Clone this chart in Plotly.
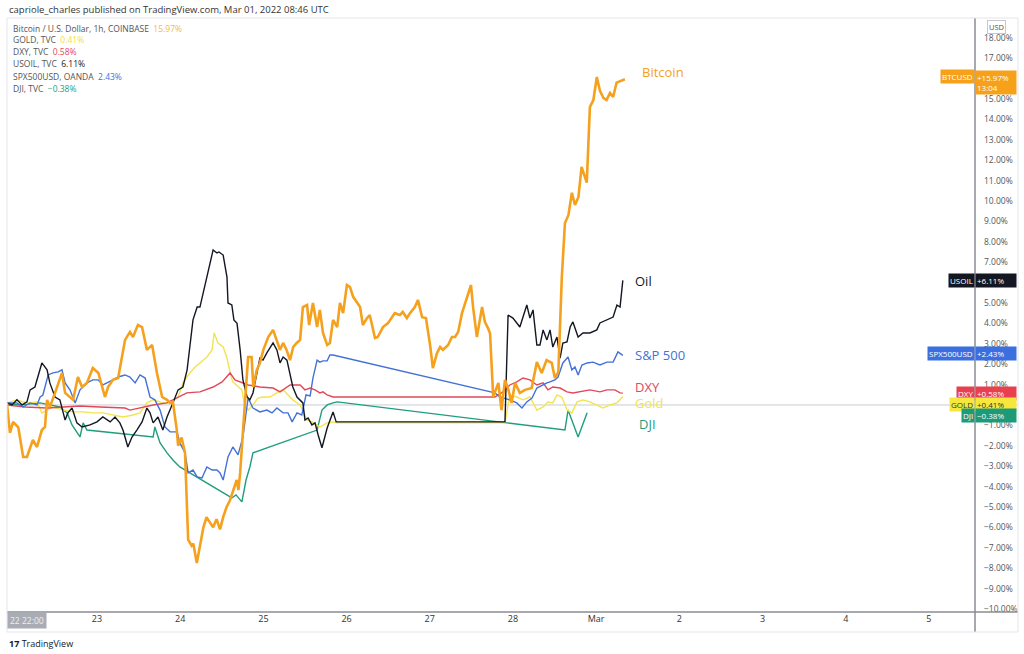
import pandas as pd
import plotly.graph_objects as go

# hours after 2022-02-22 00:00, percent change
btc = [(-2, 0.1), (-1.1, -1.37), (-0.2, -0.83), (1.3, -1.1), (2.7, -2.55), (3.8, -2.55), (5.5, -1.72),
       (6.7, -2.06), (8.1, -1.23), (9.0, -1.08), (9.6, 0.25), (10.4, -0.1), (11.9, 0.59), (13.9, 1.57),
       (14.8, 0.59), (17.1, 0.25), (18.5, 1.37), (19.7, 0.88), (21.1, 1.08), (22.8, 1.81), (24.4, 1.57),
       (24.9, 1.23), (26.3, 0.39), (27.2, 0.88), (28.6, 1.23), (30.1, 1.32), (32.1, 3.19), (33.5, 3.58),
       (34.4, 3.33), (35.8, 3.92), (37.0, 3.82), (38.4, 2.7), (39.9, 2.94), (41.3, 1.57), (42.8, 0.39),
       (44.2, 0.25), (45.1, 0.1), (45.9, 0.15), (47.0, -1.2), (47.4, -2.0), (48.4, -1.6), (49.4, -2.35),
       (50.3, -6.6), (51.3, -6.9), (51.8, -6.8), (52.8, -7.75), (53.7, -6.9), (54.7, -6.0), (55.6, -5.5),
       (56.6, -5.8), (57.5, -6.0), (58.5, -5.6), (59.5, -6.1), (60.4, -5.5), (61.4, -5.0), (62.4, -4.66),
       (63.3, -4.17), (64.3, -3.68), (64.8, -4.17), (65.3, -3.33), (66.2, -1.08), (67.6, 2.35), (68.6, 2.35),
       (69.1, 0.88), (70.1, 1.72), (71.0, 2.06), (72.0, 2.7), (73.4, 3.33), (74.8, 3.68), (75.8, 3.19),
       (76.8, 2.7), (77.7, 3.04), (78.7, 2.7), (79.7, 2.2), (80.6, 2.84), (81.6, 3.04), (82.6, 3.19),
       (83.4, 4.8), (84.6, 4.9), (85.2, 3.92), (86.3, 5.0), (87.5, 3.82), (88.3, 4.66), (89.2, 3.53),
       (90.4, 2.94), (91.2, 3.04), (92.1, 4.17), (93.3, 3.82), (94.1, 5.0), (95.0, 4.5), (96.1, 5.88),
       (97.0, 5.78), (97.9, 5.3), (99.9, 4.8), (100.7, 3.92), (101.9, 4.26), (102.7, 4.41), (104.2, 3.28),
       (105.0, 3.33), (106.5, 3.82), (107.9, 4.0), (109.9, 4.5), (111.4, 4.41), (112.2, 4.56), (113.4, 4.26),
       (114.3, 4.5), (115.7, 4.8), (116.6, 5.15), (117.8, 4.3), (118.9, 4.26), (120.1, 2.94), (120.9, 1.81),
       (122.1, 2.55), (123.0, 2.84), (123.8, 2.7), (125.3, 2.94), (126.4, 3.33), (127.3, 3.33), (128.2, 3.58),
       (129.3, 4.5), (130.7, 5.3), (131.9, 5.88), (132.5, 4.8), (133.6, 3.33), (135.1, 4.8), (135.9, 4.07),
       (136.8, 3.77), (137.4, 3.5), (138.3, 0.4), (139.8, 1.08), (140.7, -0.25), (141.7, 1.23), (142.7, 0.74),
       (143.6, 0.1), (144.6, 1.08), (146.0, 0.59), (147.5, 0.74), (149.4, 0.83), (150.9, 2.1), (152.3, 1.57),
       (153.7, 2.2), (155.2, 2.06), (156.1, 1.32), (157.1, 1.62), (158.1, 6.27), (159.0, 8.92), (160.0, 9.3),
       (161.0, 10.4), (161.9, 9.8), (162.9, 10.2), (163.8, 11.67), (165.3, 10.9), (166.2, 14.6), (167.2, 14.95),
       (168.2, 16.08), (169.1, 15.4), (170.1, 15.05), (171.0, 14.95), (172.0, 15.3), (172.9, 15.1),
       (173.9, 15.8), (175.4, 15.9), (176.3, 15.97)]

oil = [(-2.0, 0.1), (-0.5, 0.0), (0.9, 0.25), (2.4, 0.0), (3.8, 0.15), (4.7, 0.74), (6.1, 0.88), (7.0, 1.37),
       (8.1, 2.06), (9.6, 1.72), (10.4, 1.08), (11.9, 0.39), (13.3, 0.25), (14.8, -0.74), (15.6, -0.39),
       (16.8, -0.15), (18.2, -0.88), (19.7, -1.08), (22.0, -0.98), (24.0, -0.83), (25.7, -0.59), (27.8, -0.83),
       (29.2, -0.59), (30.6, -0.88), (31.5, -1.23), (32.9, -2.06), (34.1, -1.57), (35.5, -1.23), (37.0, -0.83),
       (38.4, -0.15), (39.3, -0.39), (40.2, -0.88), (41.6, -0.59), (43.0, -1.23), (44.2, -0.59), (45.9, 0.1),
       (47.4, 0.74), (48.8, 0.88), (50.0, 1.72), (51.7, 4.17), (52.9, 4.8), (53.7, 4.8), (54.6, 5.49),
       (55.7, 6.27), (56.6, 6.96), (57.5, 7.6), (58.6, 7.45), (59.2, 7.5), (60.4, 7.35), (61.5, 6.27),
       (61.8, 5.0), (62.9, 4.9), (63.5, 4.17), (64.4, 4.0), (65.3, 2.7), (66.1, 1.23), (67.3, 0.39),
       (68.1, 0.25), (69.0, 0.59), (70.2, 1.72), (71.0, 2.3), (71.9, 2.2), (73.0, 2.55), (74.8, 3.04),
       (75.9, 2.7), (76.8, 2.06), (77.7, 2.35), (78.8, 2.2), (79.7, 1.57), (80.5, 0.88), (81.7, 0.39),
       (82.6, 0.25), (83.4, 0.1), (84.0, -0.74), (84.9, -0.64), (86.0, -0.98), (86.9, -0.88), (87.8, -1.47),
       (88.9, -2.1), (90.4, -1.13), (91.2, -0.74), (92.1, -0.34), (93.0, -0.83), (141.7, -0.83), (142.6, 4.41),
       (144.0, 4.26), (146.0, 3.82), (148.0, 4.9), (148.9, 4.26), (149.8, 4.66), (150.9, 2.94), (151.8, 2.94),
       (152.7, 3.68), (153.8, 3.19), (154.7, 3.68), (155.5, 2.84), (156.7, 3.33), (157.6, 2.3), (158.4, 3.04),
       (159.6, 3.09), (160.5, 3.82), (161.3, 4.07), (162.8, 3.33), (164.2, 3.53), (166.2, 3.53), (168.2, 3.68),
       (169.1, 4.02), (171.1, 4.17), (172.9, 4.31), (174.0, 4.9), (174.9, 4.8), (175.7, 6.11)]

spx = [(-2.0, 0.1), (0.9, 0.1), (2.7, -0.1), (4.7, 0.1), (6.7, 0.0), (7.6, 0.39), (8.4, 0.49), (9.9, 1.47),
       (11.3, 1.57), (12.8, 1.62), (13.9, 1.72), (14.8, 1.08), (16.2, 0.74), (17.7, 0.1), (19.1, 0.74),
       (21.1, 1.08), (22.8, 1.23), (24.3, 1.23), (25.7, 0.98), (27.2, 1.13), (28.6, 1.23), (30.1, 1.37),
       (32.1, 1.47), (33.5, 1.37), (35.0, 1.08), (36.4, 1.47), (37.9, 1.32), (39.3, 0.39), (40.7, 0.25),
       (42.2, -0.25), (43.6, -1.08), (45.1, -1.32), (47.1, -1.32), (47.9, -1.86), (49.4, -2.35), (50.3, -3.33),
       (51.7, -3.19), (52.9, -3.53), (54.3, -3.58), (55.7, -3.04), (57.2, -3.19), (58.6, -3.19), (59.5, -3.33),
       (60.4, -3.68), (61.8, -2.55), (63.2, -2.06), (64.7, -2.45), (66.1, -1.57), (67.0, -0.25), (67.6, 0.34),
       (69.0, -0.15), (71.0, -0.34), (73.0, -0.25), (74.5, -0.39), (75.9, -0.15), (77.7, -0.39), (79.1, -0.39),
       (80.3, -0.83), (81.7, -0.39), (83.1, -0.49), (84.3, 0.49), (85.5, 0.44), (86.3, 1.32), (87.5, 2.2),
       (88.3, 2.1), (89.2, 2.16), (90.4, 2.16), (91.2, 2.45), (92.1, 2.45), (138.8, 0.59), (140.3, 0.39),
       (143.1, 0.25), (145.1, 0.1), (146.6, -0.15), (148.0, 0.15), (149.5, 0.34), (150.9, 0.83), (152.4, 0.98),
       (153.8, 1.08), (154.7, 1.13), (156.1, 1.23), (157.0, 1.37), (158.4, 2.06), (159.9, 2.35), (161.0, 1.72),
       (161.9, 1.86), (162.8, 1.47), (163.9, 1.96), (165.4, 2.06), (167.1, 2.1), (169.1, 1.96), (171.1, 2.1),
       (172.9, 2.1), (174.3, 2.6), (175.7, 2.43)]

dxy = [(-2.0, 0.0), (3.3, -0.1), (9.6, -0.15), (13.3, -0.1), (15.4, -0.1), (19.1, -0.05), (24.9, -0.1),
       (29.2, -0.15), (32.1, -0.15), (33.5, -0.25), (36.4, -0.15), (40.2, 0.0), (44.2, 0.1), (45.9, 0.25),
       (49.9, 0.59), (53.7, 0.64), (57.5, 0.88), (60.1, 1.13), (62.4, 1.57), (63.8, 1.23), (65.8, 1.08),
       (67.6, 0.98), (71.0, 0.88), (74.8, 0.83), (76.8, 0.64), (79.7, 0.98), (82.6, 0.98), (84.0, 0.74),
       (85.5, 0.83), (86.9, 0.74), (88.3, 0.59), (89.2, 0.64), (90.4, 0.49), (92.1, 0.39), (138.8, 0.39),
       (141.1, 0.64), (143.1, 0.98), (145.1, 1.13), (146.9, 1.32), (148.9, 1.23), (150.9, 0.98), (152.7, 1.08),
       (154.1, 0.74), (155.5, 0.88), (157.6, 0.83), (159.6, 0.64), (161.3, 0.59), (163.4, 0.64), (166.2, 0.74),
       (169.1, 0.64), (171.1, 0.74), (173.4, 0.74), (174.9, 0.59), (175.7, 0.58)]

gold = [(-2.0, 0.1), (0.9, 0.25), (3.8, 0.1), (6.7, 0.15), (8.1, -0.39), (9.6, -0.25), (11.3, -0.1),
        (14.2, -0.25), (17.1, -0.34), (20.0, -0.34), (22.8, -0.39), (25.7, -0.39), (28.6, -0.49), (31.5, -0.59),
        (34.4, -0.49), (36.4, -0.39), (38.4, 0.1), (40.2, 0.25), (43.0, 0.1), (45.1, 0.1), (47.4, 0.39),
        (48.8, 1.08), (50.8, 1.57), (52.3, 1.86), (53.7, 2.06), (55.7, 2.35), (57.2, 2.7), (57.8, 3.53),
        (58.9, 3.04), (60.4, 2.84), (61.5, 2.3), (62.4, 1.57), (63.2, 1.13), (64.7, 0.88), (65.8, 0.74),
        (66.7, -0.1), (67.6, -0.25), (69.0, 0.0), (70.4, 0.34), (71.9, 0.39), (73.9, 0.39), (75.9, 0.59),
        (77.7, 0.74), (79.1, 0.49), (80.5, 0.25), (82.6, 0.0), (84.6, -0.74), (86.0, -0.83), (87.5, -0.98),
        (88.3, -1.08), (90.4, -0.88), (92.1, -0.83), (93.3, -0.88), (141.7, -0.88), (143.1, 0.49), (145.1, 0.39),
        (146.9, 0.25), (148.9, 0.39), (150.9, -0.25), (152.7, -0.1), (154.1, 0.15), (155.5, 0.1), (156.7, 0.49),
        (158.1, 0.39), (159.6, -0.25), (161.0, -0.39), (162.5, 0.15), (164.2, 0.25), (166.2, 0.15), (168.2, 0.0),
        (170.0, -0.15), (172.0, 0.0), (174.0, 0.1), (175.7, 0.41)]

dji = [(-2.0, 0.1), (1.8, 0.0), (7.6, 0.1), (10.4, 0.0), (13.3, -0.1), (15.4, -0.39), (16.8, -0.98),
       (19.1, -1.57), (20.0, -0.88), (21.1, -1.23), (40.2, -1.57), (40.7, -1.08), (42.2, -1.86), (44.2, -2.35),
       (45.9, -2.7), (47.9, -3.04), (62.9, -4.56), (64.1, -4.41), (65.8, -4.75), (67.0, -3.68), (68.1, -3.04),
       (69.0, -2.35), (87.5, -1.23), (88.9, -0.25), (90.4, 0.0), (92.1, 0.1), (93.3, 0.15), (142.3, -0.88),
       (159.0, -1.23), (159.9, -0.25), (161.0, -0.74), (162.8, -1.57), (165.4, -0.38)]

day_ticks = ["2022-02-22", "2022-02-23", "2022-02-24", "2022-02-25", "2022-02-26", "2022-02-27",
             "2022-02-28", "2022-03-01", "2022-03-02", "2022-03-03", "2022-03-04", "2022-03-05"]
day_labels = ["", "23", "24", "25", "26", "27", "28", "Mar", "2", "3", "4", "5"]

# percent levels shown on the right scale (the ones under price tags are hidden)
pct_ticks = [-10, -9, -8, -7, -6, -5, -4, -3, -2, -1, 1, 2, 3, 4, 5, 7, 8, 9, 10, 11, 12, 13, 14, 15, 17, 18]
pct_labels = [f"{v:.2f}%".replace("-", "\u2212") for v in pct_ticks]

base = pd.Timestamp("2022-02-22 00:00")

def to_xy(pts):
    hrs = [p[0] for p in pts]
    vals = [p[1] for p in pts]
    return base + pd.to_timedelta(hrs, unit="h"), vals

# name, data, line colour, line width
series = [
    ("DJI, TVC", dji, "#1f9e7e", 1.4),
    ("GOLD, TVC", gold, "#f2e44e", 1.4),
    ("DXY, TVC", dxy, "#e2485a", 1.4),
    ("SPX500USD, OANDA", spx, "#4471d6", 1.4),
    ("USOIL, TVC", oil, "#131722", 1.4),
    ("Bitcoin / U.S. Dollar, 1h, COINBASE", btc, "#f5a11e", 2.6),
]

fig = go.Figure()
for name, pts, col, w in series:
    x, y = to_xy(pts)
    fig.add_trace(go.Scatter(x=x, y=y, mode="lines", name=name,
                             line=dict(color=col, width=w), showlegend=False))

FONT = "Open Sans"
W, H = 1024, 654
L, R, T, B = 7, 49, 18, 42
pw, ph = W - L - R, H - T - B

def px(xp):
    return (xp - L) / pw

def py(yp):
    return 1 - (yp - T) / ph

ann = []

# header line
ann.append(dict(x=px(7), y=py(9), xref="paper", yref="paper", xanchor="left", yanchor="middle",
                text="capriole_charles published on TradingView.com, Mar 01, 2022 08:46 UTC",
                showarrow=False, font=dict(family=FONT, size=9.5, color="#333")))

# top-left legend
legend_rows = [
    ("Bitcoin / U.S. Dollar, 1h, COINBASE", "15.97%", "#f5b942"),
    ("GOLD, TVC", "0.41%", "#efe04a"),
    ("DXY, TVC", "0.58%", "#e2485a"),
    ("USOIL, TVC", "6.11%", "#131722"),
    ("SPX500USD, OANDA", "2.43%", "#4471d6"),
    ("DJI, TVC", "\u22120.38%", "#1f9e7e"),
]
for i, (nm, val, col) in enumerate(legend_rows):
    ann.append(dict(x=px(11), y=py(28 + 12 * i), xref="paper", yref="paper", xanchor="left",
                    yanchor="middle", showarrow=False,
                    text=f"{nm}  <span style='color:{col}'>{val}</span>",
                    font=dict(family=FONT, size=8.5, color="#555")))

# series labels on the chart
labels = [("Bitcoin", 180.7, 16.3, "#f5a11e"), ("Oil", 178.6, 6.1, "#131722"),
          ("S&P 500", 178.6, 2.45, "#4471d6"), ("DXY", 178.6, 0.9, "#e2485a"),
          ("Gold", 178.6, 0.1, "#f2e44e"), ("DJI", 179.8, -0.93, "#1f9e7e")]
for txt, h, v, col in labels:
    ann.append(dict(x=base + pd.Timedelta(hours=h), y=v, xref="x", yref="y", xanchor="left",
                    yanchor="middle", text=txt, showarrow=False,
                    font=dict(family=FONT, size=13, color=col)))

# price tags on the right scale
tags = [("BTCUSD", "+15.97%<br>13:04", 15.8, "#f7a11a", "#ffffff"),
        ("USOIL", "+6.11%", 6.11, "#131722", "#ffffff"),
        ("SPX500USD", "+2.43%", 2.5, "#3b6fe0", "#ffffff"),
        ("DXY", "+0.58%", 0.56, "#e8404f", "#ffffff"),
        ("GOLD", "+0.41%", 0.0, "#f7e63c", "#333333"),
        ("DJI", "\u22120.38%", -0.53, "#1d9a78", "#ffffff")]
for nm, val, v, bg, fg in tags:
    ann.append(dict(x=1.0, y=v, xref="paper", yref="y", xanchor="left", yanchor="middle",
                    text=val, showarrow=False, bgcolor=bg, borderpad=1, width=38, align="left",
                    font=dict(family=FONT, size=8, color=fg)))
    ann.append(dict(x=1.0, y=v if nm != "BTCUSD" else 16.1, xref="paper", yref="y", xanchor="right",
                    yanchor="middle", text=nm, showarrow=False, bgcolor=bg, borderpad=1,
                    font=dict(family=FONT, size=8, color=fg)))

ann.append(dict(x=px(996), y=py(27), xref="paper", yref="paper", xanchor="center", yanchor="middle",
                text="USD", showarrow=False, bordercolor="#c8c8c8", borderwidth=1, borderpad=1,
                font=dict(family=FONT, size=7.5, color="#555")))

# crosshair date box and footer
ann.append(dict(x=px(7), y=py(620), xref="paper", yref="paper", xanchor="left", yanchor="middle",
                text="22 22:00", showarrow=False, bgcolor="#a9acb4", borderpad=2,
                font=dict(family=FONT, size=8.5, color="#eeeeee")))
ann.append(dict(x=px(7), y=py(643), xref="paper", yref="paper", xanchor="left", yanchor="middle",
                text="<b>17</b> TradingView", showarrow=False,
                font=dict(family=FONT, size=9, color="#131722")))

shapes = [
    dict(type="line", xref="paper", yref="paper", x0=0, x1=px(1018), y0=0, y1=0,
         line=dict(color="#8a8d94", width=1.5)),
    dict(type="line", xref="paper", yref="paper", x0=1, x1=1, y0=py(632), y1=1,
         line=dict(color="#8a8d94", width=1.5)),
    dict(type="rect", xref="paper", yref="paper", x0=0, x1=px(1018), y0=py(632), y1=1,
         line=dict(color="#e3e5ea", width=1)),
    dict(type="line", xref="paper", yref="y", x0=0, x1=px(1018), y0=0, y1=0,
         line=dict(color="#c9cbd0", width=1), layer="below"),
]

fig.update_layout(
    width=W, height=H, margin=dict(l=L, r=R, t=T, b=B),
    paper_bgcolor="white", plot_bgcolor="white",
    font=dict(family=FONT, size=9, color="#333"),
    annotations=ann, shapes=shapes,
    xaxis=dict(type="date",
               range=[base + pd.Timedelta(hours=-1.96), base + pd.Timedelta(hours=277.3)],
               tickvals=pd.to_datetime(day_ticks), ticktext=day_labels,
               showgrid=False, zeroline=False, showline=False, ticks="",
               tickfont=dict(family=FONT, size=9, color="#333")),
    yaxis=dict(side="right", range=[-10.15, 18.97], tickvals=pct_ticks, ticktext=pct_labels,
               showgrid=False, zeroline=False, showline=False, ticks="", ticklabelstandoff=8,
               tickfont=dict(family=FONT, size=8.5, color="#555")),
)

fig.write_html("out.html", config={"displayModeBar": False},
               post_script="document.body.style.margin='0';document.body.style.overflow='hidden';")
